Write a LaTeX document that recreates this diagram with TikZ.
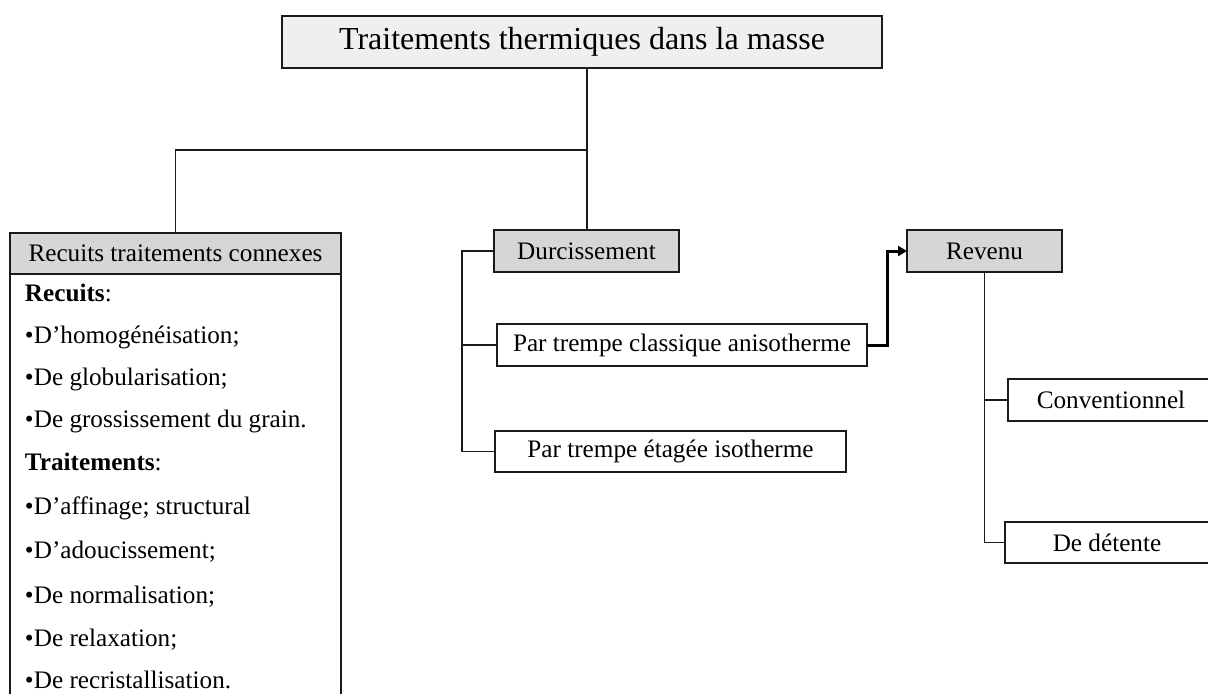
\documentclass[tikz,border=0pt]{standalone}
\usepackage{fontspec}
\setmainfont{Liberation Serif}
\usetikzlibrary{arrows.meta}
\definecolor{titlefill}{HTML}{EFEFEF}
\definecolor{headfill}{HTML}{D6D6D6}
\definecolor{linecol}{HTML}{1A1A1A}
\begin{document}
\begin{tikzpicture}[x=0.5pt,y=-0.5pt,
  every node/.style={inner sep=0pt, outer sep=0pt},
  txt/.style={font=\fontsize{12.6}{15}\selectfont},
  box/.style={txt, draw=linecol, line width=0.65pt, fill=white, minimum height=21pt},
  headbox/.style={box, fill=headfill},
  titlebox/.style={draw=linecol, line width=0.65pt, fill=titlefill, minimum height=26pt,
    minimum width=300pt, font=\fontsize{16}{19}\selectfont},
  item/.style={txt, anchor=west, text height=8.6pt, text depth=2.6pt},
  link/.style={draw=linecol, line width=0.55pt},
  boldlink/.style={draw=black, line width=1.5pt, -{Triangle[length=4.5pt,width=5pt]}}]

\useasboundingbox (0,0) rectangle (1208,693);
\clip (0,0) rectangle (1208,693);

% main title
\node[titlebox] (top) at (582,42) {Traitements thermiques dans la masse};

% first level
\node[headbox, minimum width=165.5pt, minimum height=20.5pt] (rec) at (175.5,253.5) {Recuits traitements connexes};
\node[box, minimum width=165.5pt, minimum height=223pt, anchor=north] (list) at (rec.south) {};
\node[headbox, minimum width=92.5pt] (dur) at (586.5,251) {Durcissement};
\node[headbox, minimum width=77.5pt] (rev) at (984.5,251) {Revenu};

% hardening variants
\node[box, minimum width=185pt] (cla) at (682,345) {Par trempe classique anisotherme};
\node[box, minimum width=175.5pt, minimum height=20.5pt] (eta) at (670.5,451.5) {Par trempe étagée isotherme};

% tempering variants
\node[box, minimum width=103pt] (con) at (1111,400) {Conventionnel};
\node[box, minimum width=102pt, minimum height=20.5pt] (det) at (1107,542.5) {De détente};

% list of annealing and related treatments
\node[item] (l1) at (25,295) {\textbf{Recuits}:};
\node[item] (l2) at (25,337) {•D’homogénéisation;};
\node[item] (l3) at (25,379) {•De globularisation;};
\node[item] (l4) at (25,421) {•De grossissement du grain.};
\node[item] (l5) at (25,464) {\textbf{Traitements}:};
\node[item] (l6) at (25,508) {•D’affinage; structural};
\node[item] (l7) at (25,552) {•D’adoucissement;};
\node[item] (l8) at (25,597) {•De normalisation;};
\node[item] (l9) at (25,640) {•De relaxation;};
\node[item] (l10) at (25,682) {•De recristallisation.};

% tree connectors
\coordinate (hub) at (587,150);
\coordinate (spine) at (462,0);
\path[link] (top.south -| hub) -- (hub) -- (dur.north -| hub);
\path[link] (hub) -| (rec.north);

\path[link] (dur.west) -- (dur.west -| spine) |- (eta.west);
\path[link] (cla.west) -- (cla.west -| spine);

\path[link] (rev.south) |- (det.west);
\path[link] (con.west) -- (con.west -| rev.south);

% link from quenching to tempering
\path[boldlink] (cla.east) -- ++(20,0) |- (rev.west);
\end{tikzpicture}
\end{document}
